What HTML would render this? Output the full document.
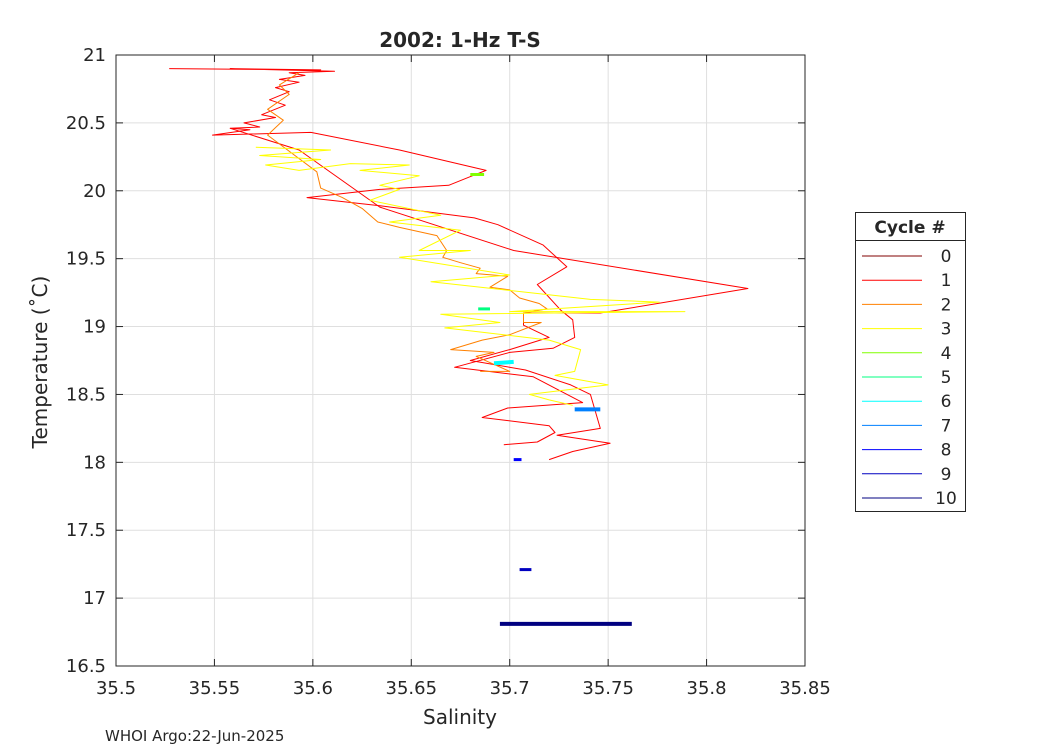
<!DOCTYPE html>
<html><head><meta charset="utf-8"><style>
body{margin:0;background:#fff;font-family:"Liberation Sans",sans-serif}
svg{display:block}
text{font-family:"DejaVu Sans","Liberation Sans",sans-serif;fill:#262626}
</style></head><body>
<svg id="c" width="1050" height="750" viewBox="0 0 1050 750"></svg>
<script>
const xTicks=[35.5,35.55,35.6,35.65,35.7,35.75,35.8,35.85];
const yTicks=[16.5,17,17.5,18,18.5,19,19.5,20,20.5,21];
const cycleNames=["0","1","2","3","4","5","6","7","8","9","10"];
const cycleColors=["#800000","#ff0000","#ff8000","#ffff00","#80ff00","#00ff80","#00ffff","#0080ff","#0000ff","#0000c0","#000080"];
const sal0=[35.558,35.593,35.634,35.702,35.821,35.746,35.707,35.707,35.720,35.700,35.680,35.708,35.731,35.741,35.746,35.724,35.751,35.732,35.720];
const tem0=[20.46,20.30,19.88,19.56,19.28,19.10,19.10,19.01,18.92,18.83,18.75,18.68,18.57,18.50,18.25,18.20,18.14,18.08,18.02];
const sal1=[35.527,35.604,35.558,35.611,35.588,35.596,35.583,35.593,35.581,35.588,35.578,35.586,35.574,35.581,35.565,35.573,35.558,35.568,35.549,35.599,35.644,35.688,35.681,35.669,35.634,35.597,35.634,35.682,35.694,35.717,35.729,35.714,35.726,35.732,35.733,35.722,35.700,35.672,35.712,35.737,35.699,35.686,35.720,35.723,35.714,35.697];
const tem1=[20.90,20.89,20.90,20.88,20.87,20.85,20.82,20.80,20.76,20.73,20.67,20.63,20.56,20.54,20.50,20.47,20.46,20.45,20.41,20.43,20.30,20.15,20.11,20.04,20.01,19.95,19.89,19.80,19.75,19.60,19.44,19.31,19.12,19.05,18.92,18.84,18.81,18.70,18.63,18.44,18.40,18.33,18.27,18.22,18.15,18.13];
const sal2=[35.593,35.583,35.588,35.577,35.585,35.577,35.602,35.604,35.615,35.625,35.633,35.644,35.663,35.668,35.666,35.675,35.685,35.683,35.699,35.690,35.700,35.705,35.715,35.719,35.707,35.707,35.716,35.700,35.686,35.670,35.692,35.683,35.700,35.685];
const tem2=[20.87,20.78,20.71,20.60,20.52,20.41,20.14,20.02,19.95,19.87,19.77,19.73,19.67,19.56,19.51,19.47,19.43,19.39,19.37,19.29,19.27,19.21,19.17,19.13,19.10,19.03,19.03,18.94,18.90,18.83,18.81,18.78,18.67,18.67];
const sal3=[35.571,35.609,35.573,35.604,35.576,35.593,35.619,35.649,35.624,35.654,35.634,35.644,35.629,35.665,35.639,35.675,35.654,35.680,35.644,35.700,35.660,35.741,35.776,35.700,35.789,35.665,35.695,35.667,35.720,35.736,35.733,35.723,35.750,35.710,35.720,35.732];
const tem3=[20.32,20.30,20.26,20.23,20.19,20.15,20.20,20.19,20.15,20.11,20.04,20.01,19.93,19.82,19.77,19.71,19.56,19.56,19.51,19.38,19.33,19.20,19.18,19.11,19.11,19.09,19.03,18.99,18.90,18.83,18.67,18.64,18.57,18.50,18.46,18.42];
const sal4=[35.680,35.687],tem4=[20.12,20.12];
const sal5=[35.684,35.690],tem5=[19.13,19.13];
const sal6=[35.692,35.702],tem6=[18.73,18.74];
const sal7=[35.733,35.746],tem7=[18.39,18.39];
const sal8=[35.702,35.706],tem8=[18.02,18.02];
const sal9=[35.705,35.711],tem9=[17.21,17.21];
const sal10=[35.695,35.762],tem10=[16.81,16.81];
const sals=[sal0,sal1,sal2,sal3,sal4,sal5,sal6,sal7,sal8,sal9,sal10];
const tems=[tem0,tem1,tem2,tem3,tem4,tem5,tem6,tem7,tem8,tem9,tem10];
const widths=[1,1,1,1,3,3,4,4,3,3,4];

const L=116,R=805,T=55,B=666;
const xs=v=>L+(v-35.5)/(0.35)*(R-L);
const ys=v=>B-(v-16.5)/4.5*(B-T);
const NS="http://www.w3.org/2000/svg";
const svg=document.getElementById('c');
function mk(tag,attrs,parent){const e=document.createElementNS(NS,tag);for(const k in attrs)e.setAttribute(k,attrs[k]);(parent||svg).appendChild(e);return e;}

const plot=mk('g',{});


mk('rect',{x:L,y:T,width:R-L,height:B-T,fill:'#fff'},plot);
xTicks.forEach(t=>{
  const g=mk('line',{x1:xs(t),x2:xs(t),y1:T,y2:B,stroke:'#dfdfdf','stroke-width':1},plot);
  
  
  mk('line',{x1:xs(t),x2:xs(t),y1:B,y2:B-7,stroke:'#262626'},plot);
  mk('line',{x1:xs(t),x2:xs(t),y1:T,y2:T+7,stroke:'#262626'},plot);
  const l=mk('text',{x:xs(t),y:B+28,'text-anchor':'middle','font-size':18},plot);
  l.textContent=String(t);
  
  
});
yTicks.forEach(t=>{
  const g=mk('line',{x1:L,x2:R,y1:ys(t),y2:ys(t),stroke:'#dfdfdf','stroke-width':1},plot);
  
  
  mk('line',{x1:L,x2:L+7,y1:ys(t),y2:ys(t),stroke:'#262626'},plot);
  mk('line',{x1:R,x2:R-7,y1:ys(t),y2:ys(t),stroke:'#262626'},plot);
  const l=mk('text',{x:L-10,y:ys(t)+6,'text-anchor':'end','font-size':18},plot);
  l.textContent=String(t);
  
  
});
sals.forEach((s,i)=>{
  const pts=s.map((v,j)=>xs(v).toFixed(1)+','+ys(tems[i][j]).toFixed(1)).join(' ');
  const p=mk('polyline',{points:pts,fill:'none',stroke:i===0?'#ff0000':cycleColors[i],'stroke-width':widths[i],'stroke-linejoin':'round'},plot);
  
  
});
mk('rect',{x:L,y:T,width:R-L,height:B-T,fill:'none',stroke:'#262626','stroke-width':1},plot);

const title=mk('text',{x:460,y:47,'text-anchor':'middle','font-size':20,'font-weight':'bold'});
title.textContent='2002: 1-Hz T-S';


const xt=mk('text',{x:460,y:724,'text-anchor':'middle','font-size':20});
xt.textContent='Salinity';


const yt=mk('text',{x:0,y:0,'text-anchor':'middle','font-size':20,transform:'translate(47,362) rotate(-90)'});
yt.textContent='Temperature (˚C)';


const ft=mk('text',{x:105,y:741,'font-size':15,fill:'#000'});
ft.textContent='WHOI Argo:22-Jun-2025';



const lg=mk('g',{});


mk('rect',{x:855.5,y:212.5,width:110,height:299,fill:'#fff',stroke:'#262626'},lg);
mk('line',{x1:855.5,x2:965.5,y1:240.5,y2:240.5,stroke:'#262626'},lg);
const lt=mk('text',{x:910,y:233,'text-anchor':'middle','font-size':17,'font-weight':'bold'},lg);
lt.textContent='Cycle #';


cycleNames.forEach((n,i)=>{
  const y=256+i*24.2;
  const e=mk('g',{},lg);
  
  
  mk('line',{x1:862,x2:922,y1:y,y2:y,stroke:cycleColors[i],'stroke-width':1},e);
  const t=mk('text',{x:946,y:y+6,'text-anchor':'middle','font-size':17},e);
  t.textContent=n;
});
</script>
</body></html>
